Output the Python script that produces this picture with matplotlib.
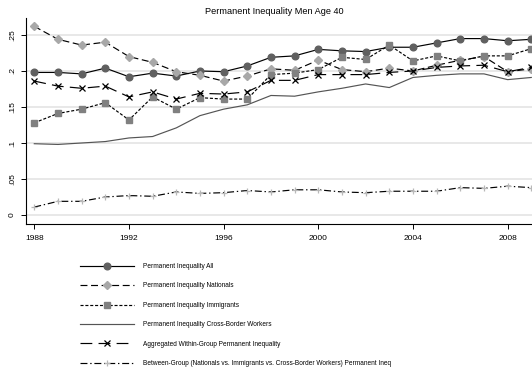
import numpy as np
import matplotlib
matplotlib.use("Agg")
import matplotlib.pyplot as plt

plt.rcParams["font.family"] = ["Liberation Sans", "DejaVu Sans"]
plt.rcParams["lines.scale_dashes"] = False

years = np.arange(1988, 2010)

# permanent inequality series (variance of permanent log earnings)
perm_all = [0.198, 0.198, 0.196, 0.204, 0.192, 0.197, 0.193, 0.200, 0.199, 0.207,
            0.219, 0.221, 0.230, 0.228, 0.227, 0.233, 0.233, 0.239, 0.245, 0.245,
            0.242, 0.244]
perm_nationals = [0.262, 0.244, 0.236, 0.240, 0.220, 0.212, 0.199, 0.194, 0.186, 0.193,
                  0.203, 0.201, 0.215, 0.202, 0.199, 0.204, 0.200, 0.208, 0.215, 0.220,
                  0.199, 0.203]
perm_immigrants = [0.128, 0.141, 0.147, 0.156, 0.132, 0.164, 0.147, 0.163, 0.161, 0.161,
                   0.195, 0.197, 0.202, 0.219, 0.216, 0.236, 0.214, 0.221, 0.214, 0.221,
                   0.221, 0.231]
perm_cross_border = [0.099, 0.098, 0.100, 0.102, 0.107, 0.109, 0.121, 0.138, 0.147, 0.153,
                     0.166, 0.165, 0.171, 0.176, 0.182, 0.177, 0.191, 0.194, 0.196, 0.196,
                     0.188, 0.191]
within_group = [0.186, 0.179, 0.176, 0.179, 0.164, 0.171, 0.161, 0.169, 0.168, 0.171,
                0.187, 0.187, 0.195, 0.195, 0.195, 0.198, 0.200, 0.205, 0.207, 0.208,
                0.199, 0.205]
between_group = [0.011, 0.019, 0.019, 0.025, 0.027, 0.026, 0.032, 0.030, 0.031, 0.034,
                 0.032, 0.035, 0.035, 0.032, 0.031, 0.033, 0.033, 0.033, 0.038, 0.037,
                 0.040, 0.038]

labels = [
    "Permanent Inequality All",
    "Permanent Inequality Nationals",
    "Permanent Inequality Immigrants",
    "Permanent Inequality Cross-Border Workers",
    "Aggregated Within-Group Permanent Inequality",
    "Between-Group (Nationals vs. Immigrants vs. Cross-Border Workers) Permanent Ineq",
]
y_ticks = [0, 0.05, 0.1, 0.15, 0.2, 0.25]
y_ticklabels = ["0", ".05", ".1", ".15", ".2", ".25"]
x_ticks = [1988, 1992, 1996, 2000, 2004, 2008]

fig = plt.figure(figsize=(5.32, 3.71), dpi=100)
ax = fig.add_axes([26 / 532, 147 / 371, 1 - 26 / 532, 206 / 371])

lw = 0.85
ax.plot(years, perm_all, color="black", lw=lw, marker="o", ms=4.8,
        mfc="#606060", mec="#606060", label=labels[0])
ax.plot(years, perm_nationals, color="black", lw=lw, dashes=(5, 2.6), marker="D",
        ms=4.4, mfc="#a8a8a8", mec="#a8a8a8", label=labels[1])
ax.plot(years, perm_immigrants, color="black", lw=lw, dashes=(2.2, 1.3), marker="s",
        ms=4.4, mfc="#808080", mec="#808080", label=labels[2])
ax.plot(years, perm_cross_border, color="#555555", lw=lw, label=labels[3])
ax.plot(years, within_group, color="black", lw=lw, dashes=(8.5, 4.5), marker="x",
        ms=3.8, mew=0.9, mec="black", label=labels[4])
ax.plot(years, between_group, color="black", lw=lw, dashes=(5, 2, 1, 2), marker="+",
        ms=5, mew=0.9, mec="#b8b8b8", label=labels[5])

ax.set_xlim(1987.65, 2009.03)
ax.set_ylim(-0.0125, 0.2736)
ax.set_yticks(y_ticks)
ax.set_yticklabels(y_ticklabels, rotation=90, va="center", fontsize=6)
ax.set_xticks(x_ticks)
ax.set_xticklabels([str(t) for t in x_ticks], fontsize=6)
ax.tick_params(axis="x", length=3.6, width=0.7, pad=4.5)
ax.tick_params(axis="y", length=3.6, width=0.7, pad=3.6)
ax.grid(axis="y", color="#e4e4e4", lw=1.2)
ax.set_axisbelow(True)
for side in ["top", "right"]:
    ax.spines[side].set_visible(False)
for side in ["left", "bottom"]:
    ax.spines[side].set_linewidth(0.8)

fig.text(274 / 532, 1 - 11 / 371, "Permanent Inequality Men Age 40",
         ha="center", va="center", fontsize=6.6)

fig.legend(loc="upper left", bbox_to_anchor=(80 / 532, 1 - 263 / 371), ncol=1,
           frameon=False, fontsize=4.7, handlelength=8.3, handletextpad=1.4,
           labelspacing=1.9, borderpad=0, borderaxespad=0)

fig.savefig("out.png", dpi=100)
